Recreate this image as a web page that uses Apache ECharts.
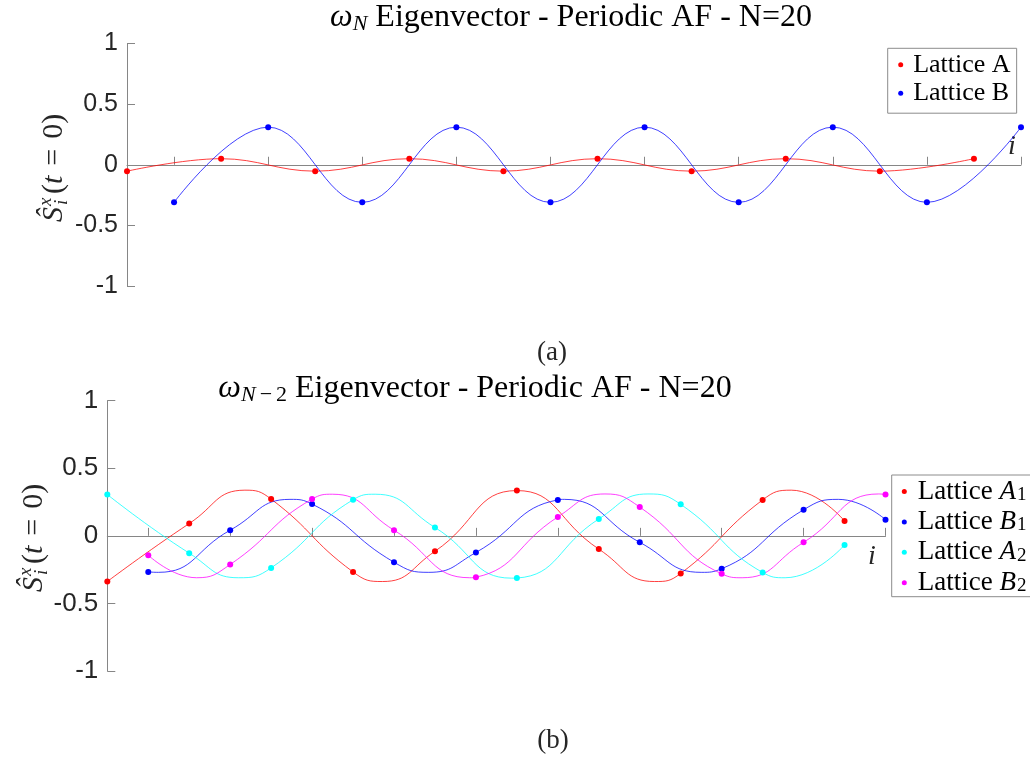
<!DOCTYPE html>
<html>
<head>
<meta charset="utf-8">
<script src="https://cdn.jsdelivr.net/npm/echarts@6/dist/echarts.min.js"></script>
<style>
html,body{margin:0;padding:0;background:#fff;}
#chart{width:1030px;height:760px;}
</style>
</head>
<body>
<div id="chart"></div>
<script>
// ---------- data ----------
const tickSites = [1, 3, 5, 7, 9, 11, 13, 15, 17, 19];
const yTickValues = [-1, -0.5, 0, 0.5, 1];

// (a) omega_N eigenvector
const topSitesA = [0, 2, 4, 6, 8, 10, 12, 14, 16, 18];
const topLatticeA = [-0.053, 0.05, -0.053, 0.05, -0.053, 0.05, -0.053, 0.05, -0.053, 0.05];
const topSitesB = [1, 3, 5, 7, 9, 11, 13, 15, 17, 19];
const topLatticeB = [-0.31, 0.31, -0.31, 0.31, -0.31, 0.31, -0.31, 0.31, -0.31, 0.31];

// (b) omega_{N-2} eigenvector: dots
const botSitesA = [0, 2, 4, 6, 8, 10, 12, 14, 16, 18];
const botSitesB = [1, 3, 5, 7, 9, 11, 13, 15, 17, 19];
const botLatticeA1 = [-0.338, 0.091, 0.272, -0.267, -0.114, 0.335, -0.098, -0.278, 0.266, 0.110];
const botLatticeB1 = [-0.267, 0.042, 0.235, -0.195, -0.123, 0.266, -0.048, -0.243, 0.193, 0.120];
const botLatticeA2 = [0.306, -0.128, -0.237, 0.267, 0.062, -0.312, 0.125, 0.233, -0.271, -0.068];
const botLatticeB2 = [-0.143, -0.212, 0.272, 0.042, -0.306, 0.140, 0.213, -0.281, -0.048, 0.306];

// (b) curve extremes (site position, value)
const extSitesA1 = [3.36, 6.72, 13.36, 16.7];
const extValsA1 = [0.338, -0.338, -0.338, 0.338];
const extSitesB1 = [1.25, 4.46, 7.85, 11.16, 14.5, 17.85];
const extValsB1 = [-0.27, 0.27, -0.27, 0.27, -0.27, 0.27];
const extSitesA2 = [3.2, 6.54, 9.87, 13.2, 16.55];
const extValsA2 = [-0.31, 0.308, -0.313, 0.31, -0.31];
const extSitesB2 = [2.18, 5.5, 8.85, 12.15, 15.5, 18.83];
const extValsB2 = [-0.31, 0.308, -0.31, 0.31, -0.31, 0.31];

const topNames = ['Lattice A', 'Lattice B'];
const botNames = ['Lattice A1', 'Lattice B1', 'Lattice A2', 'Lattice B2'];

// ---------- styling ----------
const SERIF = '"Liberation Serif", "Times New Roman", serif';
const SANS = '"Liberation Sans", Arial, sans-serif';
const AXIS_GRAY = '#868686';
const BOX_GRAY = '#8c8c8c';
const LABEL = '#262626';

function zip(xs, ys) { return xs.map((x, k) => [x, ys[k]]); }
function merged(xs, ys, ex, ev) {
  return zip(xs, ys).concat(zip(ex, ev)).sort((a, b) => a[0] - b[0]);
}

function lineSeries(name, color, xs, ys, axisIdx, smooth) {
  return {
    name: name, type: 'line', xAxisIndex: axisIdx, yAxisIndex: axisIdx,
    data: zip(xs, ys), smooth: smooth,
    symbol: 'circle', symbolSize: 6, showSymbol: true,
    itemStyle: { color: color },
    lineStyle: { color: color, width: 1, opacity: 0.75 },
    emphasis: { disabled: true }
  };
}
function curveSeries(name, color, data) {
  return {
    name: name, type: 'line', xAxisIndex: 1, yAxisIndex: 1,
    data: data, smooth: 0.5, showSymbol: false, symbol: 'none', silent: true,
    lineStyle: { color: color, width: 1, opacity: 0.75 },
    itemStyle: { color: color },
    emphasis: { disabled: true }, z: 2
  };
}
function dotSeries(name, color, xs, ys) {
  return {
    name: name, type: 'scatter', xAxisIndex: 1, yAxisIndex: 1,
    data: zip(xs, ys), symbol: 'circle', symbolSize: 6,
    itemStyle: { color: color, opacity: 1 },
    emphasis: { disabled: true }, z: 3
  };
}

function xAxisDef(gridIndex) {
  return {
    gridIndex: gridIndex, type: 'value', min: 0, max: 19,
    axisLine: { show: true, onZero: true, lineStyle: { color: AXIS_GRAY, width: 1 } },
    axisTick: { show: true, inside: true, length: 8, customValues: tickSites, lineStyle: { color: AXIS_GRAY } },
    axisLabel: { show: false },
    splitLine: { show: false }
  };
}
function yAxisDef(gridIndex, fontSize) {
  return {
    gridIndex: gridIndex, type: 'value', min: yTickValues[0], max: yTickValues[yTickValues.length - 1], interval: 0.5,
    axisLine: { show: true, onZero: false, lineStyle: { color: AXIS_GRAY, width: 1 } },
    axisTick: { show: true, inside: true, length: 8, lineStyle: { color: AXIS_GRAY } },
    axisLabel: { fontFamily: SANS, fontSize: fontSize, color: LABEL, margin: 9 },
    splitLine: { show: false }
  };
}

function titleText(x, y, sub1, withMinus2) {
  let txt = '{w|ω}{s|' + sub1 + '}';
  if (withMinus2) txt += '{m|−}{r|2}';
  txt += '{t| Eigenvector - Periodic AF - N=20}';
  return {
    type: 'text', x: x, y: y,
    style: {
      text: txt, align: 'center', verticalAlign: 'middle',
      rich: {
        t: { fontFamily: SERIF, fontSize: 32, lineHeight: 34, fill: '#000' },
        w: { fontFamily: SERIF, fontStyle: 'italic', fontSize: 32, lineHeight: 34, fill: '#000' },
        s: { fontFamily: SERIF, fontStyle: 'italic', fontSize: 22, lineHeight: 12, verticalAlign: 'bottom', fill: '#000' },
        m: { fontFamily: SERIF, fontSize: 22, lineHeight: 12, verticalAlign: 'bottom', fill: '#000', padding: [0, 4, 0, 4] },
        r: { fontFamily: SERIF, fontSize: 22, lineHeight: 12, verticalAlign: 'bottom', fill: '#000' }
      }
    }
  };
}

function yName(x, y) {
  const it = { fontFamily: SERIF, fontStyle: 'italic', fill: LABEL };
  return {
    type: 'group', x: x, y: y, rotation: Math.PI / 2,
    children: [
      { type: 'text', x: 0, y: 0, style: Object.assign({ text: 'Ŝ', fontSize: 30, align: 'left', verticalAlign: 'middle' }, it) },
      { type: 'text', x: 16, y: -8, style: Object.assign({ text: 'x', fontSize: 19, align: 'left', verticalAlign: 'middle' }, it) },
      { type: 'text', x: 17, y: 8, style: Object.assign({ text: 'i', fontSize: 19, align: 'left', verticalAlign: 'middle' }, it) },
      { type: 'text', x: 28, y: 0, style: {
          text: '{p|(}{t|t}{e|=}{p|0)}', align: 'left', verticalAlign: 'middle',
          rich: {
            p: { fontFamily: SERIF, fontSize: 30, fill: LABEL },
            t: { fontFamily: SERIF, fontStyle: 'italic', fontSize: 30, fill: LABEL },
            e: { fontFamily: SERIF, fontSize: 30, fill: LABEL, padding: [0, 10, 0, 10] }
          }
      } }
    ]
  };
}

function plainText(x, y, text, size, italic) {
  return {
    type: 'text', x: x, y: y,
    style: { text: text, fontFamily: SERIF, fontStyle: italic ? 'italic' : 'normal', fontSize: size, fill: '#262626', align: 'center', verticalAlign: 'middle' }
  };
}

const option = {
  backgroundColor: '#fff',
  animation: false,
  grid: [
    { left: 127, right: 9, top: 43.5, height: 242.5 },
    { left: 107.3, right: 144.5, top: 400.7, height: 270.3 }
  ],
  xAxis: [xAxisDef(0), xAxisDef(1)],
  yAxis: [yAxisDef(0, 25), yAxisDef(1, 26)],
  legend: [
    {
      data: topNames, orient: 'vertical', left: 887.7, top: 48.3,
      padding: [3.5, 6, 7, 10.5], itemGap: 2.4, itemWidth: 5, itemHeight: 5,
      icon: 'circle', backgroundColor: '#fff',
      borderColor: BOX_GRAY, borderWidth: 1, borderRadius: 0,
      textStyle: { fontFamily: SERIF, fontSize: 26, color: '#000', lineHeight: 26, padding: [0, 0, 0, 5] },
      selectedMode: false
    },
    {
      data: botNames, orient: 'vertical', left: 891.7, top: 475,
      padding: [3, 10, 4, 10.1], itemGap: 3.4, itemWidth: 5, itemHeight: 5,
      icon: 'circle',
      formatter: function (name) {
        const m = name.match(/Lattice (\w)(\d)/);
        return '{n|Lattice }{it|' + m[1] + '}{sub|' + m[2] + '}';
      },
      textStyle: {
        fontFamily: SERIF, fontSize: 27, color: '#000', lineHeight: 26, padding: [0, 0, 0, 6],
        rich: {
          n: { fontFamily: SERIF, fontSize: 27, color: '#000', lineHeight: 26 },
          it: { fontFamily: SERIF, fontStyle: 'italic', fontSize: 27, color: '#000', lineHeight: 26, padding: [0, 1, 0, 0] },
          sub: { fontFamily: SERIF, fontSize: 19, color: '#000', lineHeight: 10, verticalAlign: 'bottom' }
        }
      },
      selectedMode: false
    }
  ],
  series: [
    lineSeries(topNames[0], '#ff0000', topSitesA, topLatticeA, 0, 0.4),
    lineSeries(topNames[1], '#0000ff', topSitesB, topLatticeB, 0, 0.4),
    curveSeries('curve A1', '#ff0000', merged(botSitesA, botLatticeA1, extSitesA1, extValsA1)),
    curveSeries('curve B1', '#0000ff', merged(botSitesB, botLatticeB1, extSitesB1, extValsB1)),
    curveSeries('curve A2', '#00ffff', merged(botSitesA, botLatticeA2, extSitesA2, extValsA2)),
    curveSeries('curve B2', '#ff00ff', merged(botSitesB, botLatticeB2, extSitesB2, extValsB2)),
    dotSeries(botNames[0], '#ff0000', botSitesA, botLatticeA1),
    dotSeries(botNames[1], '#0000ff', botSitesB, botLatticeB1),
    dotSeries(botNames[2], '#00ffff', botSitesA, botLatticeA2),
    dotSeries(botNames[3], '#ff00ff', botSitesB, botLatticeB2)
  ],
  graphic: [
    // frame of the lower legend, which runs past the right edge of the figure
    { type: 'rect', shape: { x: 891.7, y: 475, width: 200, height: 121.7 },
      style: { fill: '#fff', stroke: BOX_GRAY, lineWidth: 1 }, z: 0, silent: true },
    titleText(571, 18, 'N', false),
    titleText(475, 389, 'N', true),
    yName(54, 222),
    yName(34, 592),
    plainText(1012, 147, 'i', 28, true),
    plainText(872, 557, 'i', 28, true),
    plainText(552, 353, '(a)', 27, false),
    plainText(553, 741, '(b)', 27, false)
  ]
};

const chart = echarts.init(document.getElementById('chart'), null, { renderer: 'canvas' });
chart.setOption(option);
</script>
</body>
</html>
